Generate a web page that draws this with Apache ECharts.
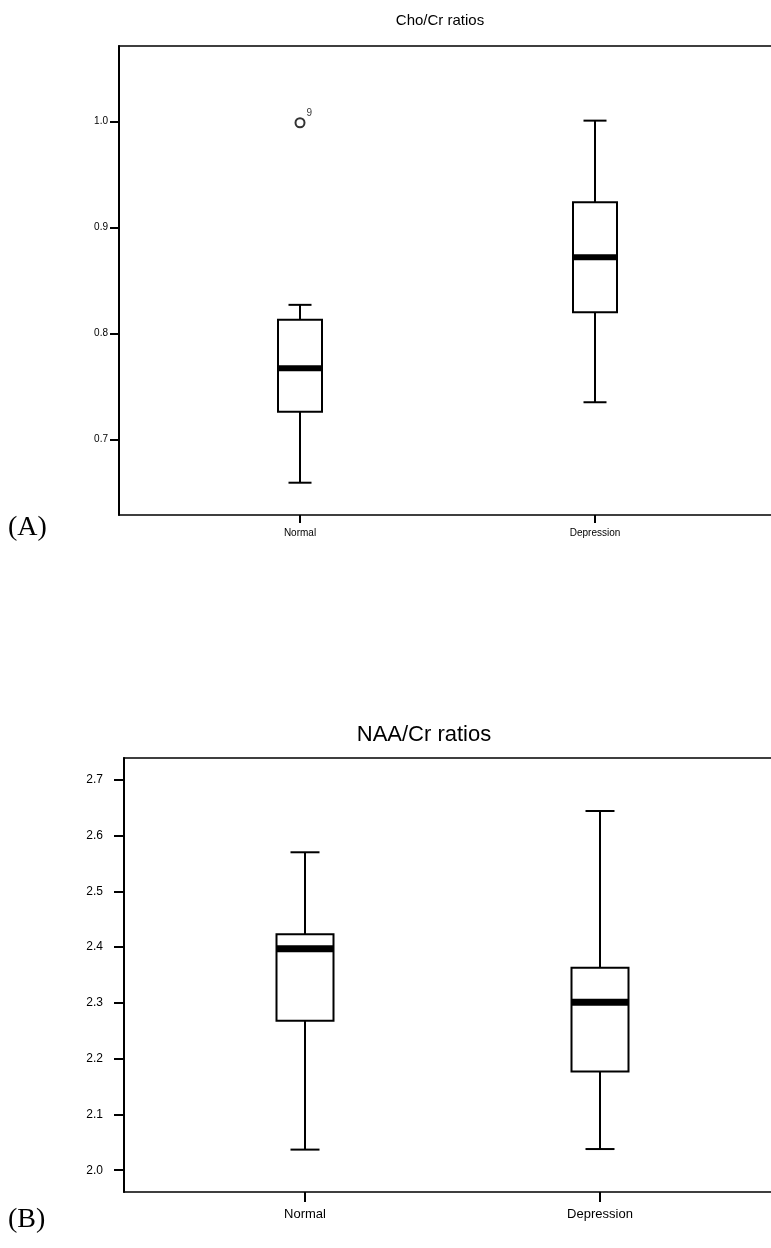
<!DOCTYPE html>
<html>
<head>
<meta charset="utf-8">
<script src="https://cdn.jsdelivr.net/npm/echarts@6/dist/echarts.min.js"></script>
<style>
  html, body { margin: 0; padding: 0; background: #fff; }
  #chart { width: 771px; height: 1248px; }
</style>
</head>
<body>
<div id="chart"></div>
<script>
// groups on the x axis
const groups = ['Normal', 'Depression'];

// (A) Cho/Cr ratios: [min, q1, median, q3, max]
const choStats = [
  [0.659, 0.726, 0.767, 0.813, 0.827],
  [0.735, 0.820, 0.872, 0.924, 1.001]
];
const choOutliers = [[0, 0.999]];
const choOutlierIds = ['9'];
const choTicks = [0.7, 0.8, 0.9, 1.0];

// (B) NAA/Cr ratios: [min, q1, median, q3, max]
const naaStats = [
  [2.037, 2.268, 2.397, 2.423, 2.570],
  [2.038, 2.177, 2.301, 2.363, 2.644]
];
const naaTicks = [2.0, 2.1, 2.2, 2.3, 2.4, 2.5, 2.6, 2.7];

const chart = echarts.init(document.getElementById('chart'));
const font = 'Liberation Sans, Arial, sans-serif';

// draws whisker, caps, box and thick median for one group
function boxRenderer(boxW, capW, lineW, medW) {
  return function (params, api) {
    const x = api.value(0);
    const pMin = api.coord([x, api.value(1)]);
    const pQ1 = api.coord([x, api.value(2)]);
    const pMed = api.coord([x, api.value(3)]);
    const pQ3 = api.coord([x, api.value(4)]);
    const pMax = api.coord([x, api.value(5)]);
    const cx = pMed[0];
    const line = { stroke: '#000', lineWidth: lineW };
    return {
      type: 'group',
      children: [
        { type: 'line', shape: { x1: cx, y1: pMax[1], x2: cx, y2: pQ3[1] }, style: line },
        { type: 'line', shape: { x1: cx, y1: pQ1[1], x2: cx, y2: pMin[1] }, style: line },
        { type: 'line', shape: { x1: cx - capW / 2, y1: pMax[1], x2: cx + capW / 2, y2: pMax[1] }, style: line },
        { type: 'line', shape: { x1: cx - capW / 2, y1: pMin[1], x2: cx + capW / 2, y2: pMin[1] }, style: line },
        { type: 'rect', shape: { x: cx - boxW / 2, y: pQ3[1], width: boxW, height: pQ1[1] - pQ3[1] },
          style: { fill: '#fff', stroke: '#000', lineWidth: lineW } },
        { type: 'rect', shape: { x: cx - boxW / 2, y: pMed[1] - medW / 2, width: boxW, height: medW },
          style: { fill: '#000' } }
      ]
    };
  };
}

function frameY(grid, min, max, ticks, fontSize, tickLen, margin) {
  return {
    gridIndex: grid, type: 'value', min: min, max: max,
    axisLine: { show: true, lineStyle: { color: '#000', width: 2 } },
    axisTick: { show: true, length: tickLen, customValues: ticks, lineStyle: { color: '#000', width: 2 } },
    axisLabel: { customValues: ticks, color: '#000', fontSize: fontSize, fontFamily: font, margin: margin,
      formatter: v => v.toFixed(1) },
    splitLine: { show: false }
  };
}

function dataX(grid, fontSize, tickLen, margin) {
  return {
    gridIndex: grid, type: 'category', data: groups,
    axisLine: { show: false },
    axisTick: { show: true, alignWithLabel: true, length: tickLen, lineStyle: { color: '#000', width: 2 } },
    axisLabel: { color: '#000', fontSize: fontSize, fontFamily: font, margin: margin }
  };
}

let option = {
  backgroundColor: '#fff',
  animation: false,
  title: [
    { text: 'Cho/Cr ratios', left: 435, top: 8, textAlign: 'center',
      textStyle: { fontSize: 15, fontWeight: 'normal', color: '#000', fontFamily: font } },
    { text: 'NAA/Cr ratios', left: 419, top: 719, textAlign: 'center',
      textStyle: { fontSize: 22, fontWeight: 'normal', color: '#000', fontFamily: font } }
  ],
  grid: [
    // frames run off the right edge of the picture, like the scan
    { left: 119, top: 46, width: 700, height: 469, outerBoundsMode: 'none',
      show: true, borderColor: '#000', borderWidth: 1.5 },
    { left: 152.5, top: 46, width: 590, height: 469, outerBoundsMode: 'none' },
    { left: 124, top: 758, width: 700, height: 434, outerBoundsMode: 'none',
      show: true, borderColor: '#000', borderWidth: 1.5 },
    { left: 157.5, top: 758, width: 590, height: 434, outerBoundsMode: 'none' }
  ],
  xAxis: [
    { gridIndex: 0, type: 'value', show: false },
    dataX(1, 10, 8, 13),
    { gridIndex: 2, type: 'value', show: false },
    dataX(3, 13, 10, 16)
  ],
  yAxis: [
    frameY(0, 0.6285, 1.0715, choTicks, 10, 9, 11),
    { gridIndex: 1, type: 'value', min: 0.6285, max: 1.0715, show: false },
    frameY(2, 1.961, 2.739, naaTicks, 12, 10, 21),
    { gridIndex: 3, type: 'value', min: 1.961, max: 2.739, show: false }
  ],
  series: [
    {
      type: 'custom', xAxisIndex: 1, yAxisIndex: 1,
      renderItem: boxRenderer(44, 23, 2, 6),
      encode: { x: 0, y: [1, 2, 3, 4, 5] },
      data: choStats.map((s, i) => [i].concat(s))
    },
    {
      type: 'scatter', xAxisIndex: 1, yAxisIndex: 1, z: 5,
      symbol: 'emptyCircle', symbolSize: 9,
      itemStyle: { color: '#000', borderColor: '#000', borderWidth: 2 },
      label: { show: true, position: [12, -9], color: '#000', fontSize: 10, fontFamily: font,
        formatter: p => choOutlierIds[p.dataIndex] },
      data: choOutliers
    },
    {
      type: 'custom', xAxisIndex: 3, yAxisIndex: 3,
      renderItem: boxRenderer(57, 29, 2, 7),
      encode: { x: 0, y: [1, 2, 3, 4, 5] },
      data: naaStats.map((s, i) => [i].concat(s))
    }
  ],
  graphic: [
    { type: 'text', left: 8, top: 514, style: { text: '(A)', fontSize: 28, fontFamily: 'Liberation Serif, Times New Roman, serif', fill: '#000' } },
    { type: 'text', left: 8, top: 1206, style: { text: '(B)', fontSize: 28, fontFamily: 'Liberation Serif, Times New Roman, serif', fill: '#000' } }
  ]
};

chart.setOption(option);
</script>
</body>
</html>
